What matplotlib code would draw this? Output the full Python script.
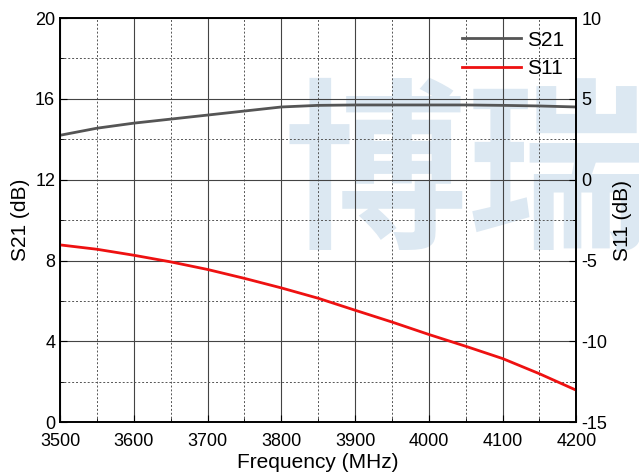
import matplotlib
matplotlib.use("Agg")
import matplotlib.pyplot as plt
from matplotlib.ticker import MultipleLocator

plt.rcParams["font.family"] = ["Liberation Sans", "DejaVu Sans"]
plt.rcParams["axes.unicode_minus"] = False

freq = [3500, 3550, 3600, 3650, 3700, 3750, 3800, 3850, 3900, 3950, 4000, 4050, 4100, 4150, 4200]
s21 = [14.2, 14.55, 14.8, 15.0, 15.2, 15.4, 15.6, 15.68, 15.7, 15.7, 15.7, 15.7, 15.68, 15.65, 15.6]
s11 = [-4.03, -4.3, -4.67, -5.08, -5.55, -6.1, -6.69, -7.33, -8.07, -8.8, -9.57, -10.3, -11.06, -12.0, -13.02]

fig, ax = plt.subplots(figsize=(6.39, 4.75), dpi=100)
fig.subplots_adjust(left=0.094, right=0.902, top=0.962, bottom=0.111)
ax2 = ax.twinx()
ax.set_zorder(1)
ax2.set_zorder(2)
ax.patch.set_alpha(0)

# watermark, drawn under the axes
fig.text(0.73, 0.62, "博瑞", fontsize=132, fontweight="bold", color="#dce8f2",
         ha="center", va="center", family=["Noto Sans CJK SC"], zorder=0)

ax.set_xlim(3500, 4200)
ax.set_ylim(0, 20)
ax2.set_ylim(-15, 10)
ax.xaxis.set_major_locator(MultipleLocator(100))
ax.xaxis.set_minor_locator(MultipleLocator(50))
ax.yaxis.set_major_locator(MultipleLocator(4))
ax.yaxis.set_minor_locator(MultipleLocator(2))
ax2.yaxis.set_major_locator(MultipleLocator(5))
ax2.yaxis.set_minor_locator(MultipleLocator(2.5))

ax.grid(True, which="major", color="#444444", linewidth=0.8)
ax.grid(True, which="minor", color="#555555", linewidth=0.7, linestyle=(0, (2, 2)))
ax.set_axisbelow(True)

l1, = ax.plot(freq, s21, color="#555555", linewidth=2, label="S21")
l2, = ax2.plot(freq, s11, color="#ee1111", linewidth=2, label="S11")

for a in (ax, ax2):
    a.tick_params(which="both", direction="in", labelsize=13)
    a.tick_params(which="major", length=5)
    a.tick_params(which="minor", length=3)
    for s in a.spines.values():
        s.set_linewidth(1.2)
ax.tick_params(axis="x", pad=8)

ax.set_xlabel("Frequency (MHz)", fontsize=15, labelpad=2)
ax.set_ylabel("S21 (dB)", fontsize=15)
ax2.set_ylabel("S11 (dB)", fontsize=15)

leg = ax2.legend(handles=[l1, l2], loc="upper right", frameon=False, fontsize=15,
                 handlelength=2.8, handletextpad=0.3, borderaxespad=0.2, labelspacing=0.45)

fig.savefig("out.png", dpi=100)
